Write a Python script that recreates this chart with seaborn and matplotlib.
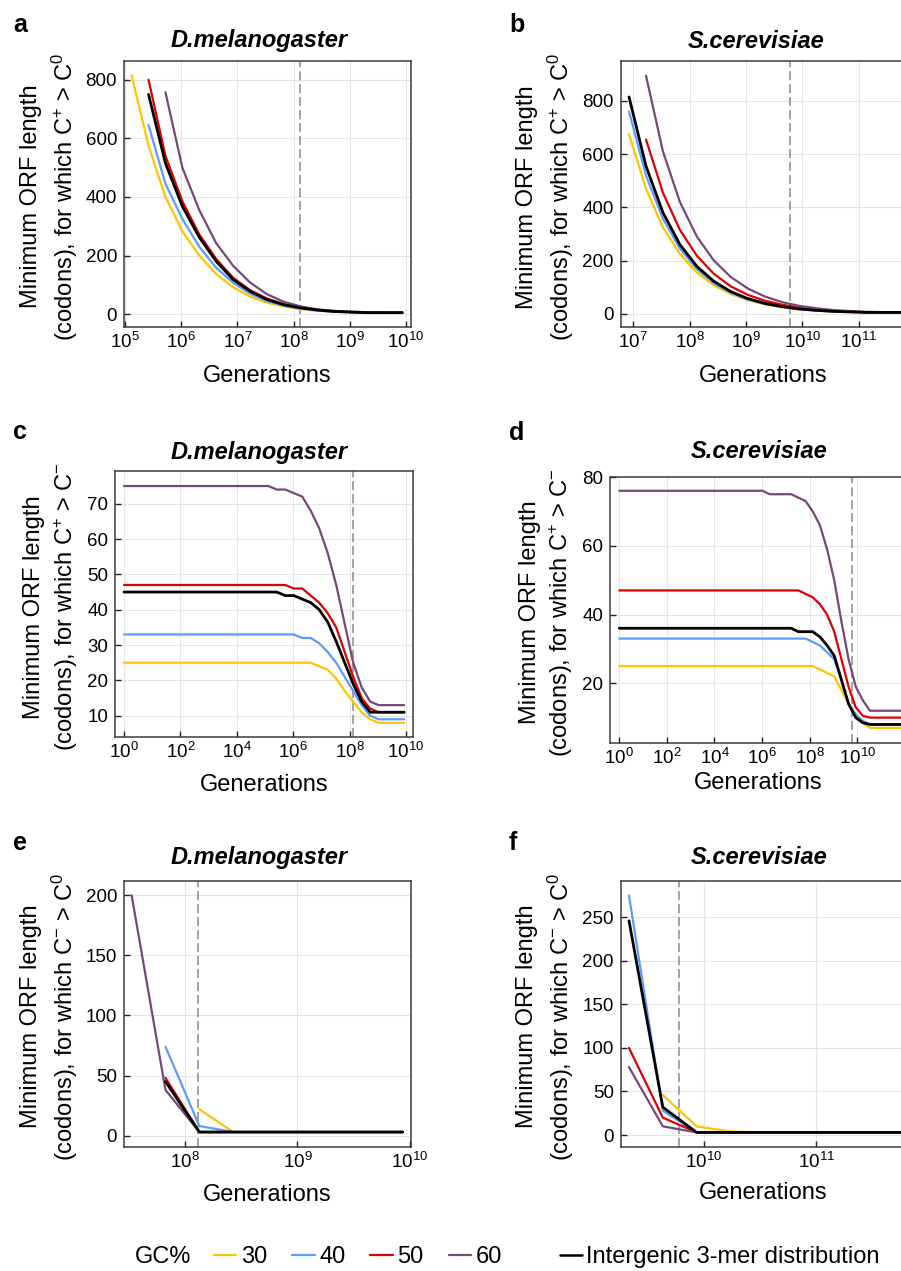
import numpy as np
import pandas as pd
import seaborn as sns
import matplotlib
matplotlib.use("Agg")
import matplotlib.pyplot as plt
from matplotlib.lines import Line2D
from matplotlib.ticker import FixedLocator, FixedFormatter

# ---------------- data ----------------
# generations are powers of two: GENERATIONS[k] = 2**k
GENERATIONS = [2 ** k for k in range(41)]
SERIES = ["30", "40", "50", "60", "Intergenic 3-mer distribution"]
COLORS = ["#FFC400", "#5A9BFF", "#DC0000", "#784779", "#000000"]
DMEL_NE = 1.3e8
SCER_NE = 6.0e9

# panel a: D.melanogaster, C+ > C0  (first exponent k for each series)
PA_START = [17, 18, 18, 19, 18]
PA_30 = [815, 575, 400, 283, 200, 137, 92, 60, 39, 26, 17, 11, 8, 6, 5, 5, 5]
PA_40 = [645, 445, 325, 230, 158, 107, 70, 45, 29, 19, 12, 8, 6, 5, 5, 5]
PA_50 = [800, 540, 385, 272, 188, 124, 82, 53, 34, 22, 14, 9, 7, 5, 5, 5]
PA_60 = [757, 500, 355, 242, 165, 108, 68, 42, 26, 16, 11, 8, 6, 5, 5]
PA_IG = [750, 515, 368, 262, 180, 118, 78, 50, 32, 21, 14, 9, 7, 5, 5, 5]

# panel b: S.cerevisiae, C+ > C0
PB_START = [23, 23, 24, 24, 23]
PB_30 = [675, 470, 325, 225, 155, 107, 74, 51, 35, 24, 17, 12, 8, 6, 5, 5, 5, 5]
PB_40 = [760, 520, 357, 245, 168, 115, 79, 54, 37, 26, 18, 12, 9, 7, 5, 5, 5, 5]
PB_50 = [655, 455, 315, 218, 150, 103, 71, 49, 34, 23, 16, 11, 8, 6, 5, 5, 5]
PB_60 = [895, 610, 420, 290, 200, 138, 95, 65, 44, 30, 21, 14, 10, 7, 6, 5, 5]
PB_IG = [815, 555, 380, 260, 178, 122, 83, 57, 39, 27, 18, 13, 9, 7, 5, 5, 5, 5]

# panel c: D.melanogaster, C+ > C-
PC_START = [0, 0, 0, 0, 0]
PC_30 = [25, 25, 25, 25, 25, 25, 25, 25, 25, 25, 25, 25, 25, 25, 25, 25, 25, 25,
         25, 25, 25, 25, 25, 24, 23, 20.5, 17, 14, 11, 9, 8, 8, 8, 8]
PC_40 = [33, 33, 33, 33, 33, 33, 33, 33, 33, 33, 33, 33, 33, 33, 33, 33, 33, 33,
         33, 33, 33, 32, 32, 30.5, 28, 25, 21, 17, 13, 10, 9, 9, 9, 9]
PC_50 = [47, 47, 47, 47, 47, 47, 47, 47, 47, 47, 47, 47, 47, 47, 47, 47, 47, 47,
         47, 47, 46, 46, 44, 42, 39, 35, 28, 21, 15, 12, 11, 11, 11, 11]
PC_60 = [75, 75, 75, 75, 75, 75, 75, 75, 75, 75, 75, 75, 75, 75, 75, 75, 75, 75,
         74, 74, 73, 72, 68, 63, 56, 47, 36, 25, 18, 14, 13, 13, 13, 13]
PC_IG = [45, 45, 45, 45, 45, 45, 45, 45, 45, 45, 45, 45, 45, 45, 45, 45, 45, 45,
         45, 44, 44, 43, 42, 40, 36.5, 31, 25, 19, 14, 11, 11, 11, 11, 11]

# panel d: S.cerevisiae, C+ > C-
PD_START = [0, 0, 0, 0, 0]
PD_30 = [25, 25, 25, 25, 25, 25, 25, 25, 25, 25, 25, 25, 25, 25, 25, 25, 25, 25,
         25, 25, 25, 25, 25, 25, 25, 25, 25, 25, 24, 23, 22, 18, 14, 10.5, 8.5,
         7, 7, 7, 7, 7, 7]
PD_40 = [33, 33, 33, 33, 33, 33, 33, 33, 33, 33, 33, 33, 33, 33, 33, 33, 33, 33,
         33, 33, 33, 33, 33, 33, 33, 33, 33, 32, 31, 29, 27, 21, 14, 11, 9,
         8, 8, 8, 8, 8, 8]
PD_50 = [47, 47, 47, 47, 47, 47, 47, 47, 47, 47, 47, 47, 47, 47, 47, 47, 47, 47,
         47, 47, 47, 47, 47, 47, 47, 47, 46, 45, 43, 40, 35, 27, 19, 13, 10.5,
         10, 10, 10, 10, 10, 10]
PD_60 = [76, 76, 76, 76, 76, 76, 76, 76, 76, 76, 76, 76, 76, 76, 76, 76, 76, 76,
         76, 76, 76, 75, 75, 75, 75, 74, 73, 70, 66, 59, 50, 38, 27, 19, 15,
         12, 12, 12, 12, 12, 12]
PD_IG = [36, 36, 36, 36, 36, 36, 36, 36, 36, 36, 36, 36, 36, 36, 36, 36, 36, 36,
         36, 36, 36, 36, 36, 36, 36, 35, 35, 35, 33.5, 31, 28, 21, 14, 10, 8.5,
         8, 8, 8, 8, 8, 8]

# panel e: D.melanogaster, C- > C0
PE_START = [27, 26, 26, 25, 26]
PE_30 = [22, 3, 3, 3, 3, 3, 3]
PE_40 = [74, 8, 3, 3, 3, 3, 3, 3]
PE_50 = [48, 3, 3, 3, 3, 3, 3, 3]
PE_60 = [200, 38, 3, 3, 3, 3, 3, 3, 3]
PE_IG = [45, 3, 3, 3, 3, 3, 3, 3]

# panel f: S.cerevisiae, C- > C0
PF_START = [32, 31, 31, 31, 31]
PF_30 = [46, 10, 4, 3, 3, 3, 3, 3, 3]
PF_40 = [275, 28, 3, 3, 3, 3, 3, 3, 3, 3]
PF_50 = [100, 20, 3, 3, 3, 3, 3, 3, 3, 3]
PF_60 = [78, 10, 3, 3, 3, 3, 3, 3, 3, 3]
PF_IG = [246, 32, 3, 3, 3, 3, 3, 3, 3, 3]

# ---------------- style ----------------
sns.set_theme(style="whitegrid")
plt.rcParams.update({
    "font.family": ["Liberation Sans", "DejaVu Sans"],
    "mathtext.fontset": "custom",
    "mathtext.rm": "Liberation Sans",
    "mathtext.it": "Liberation Sans:italic",
    "mathtext.bf": "Liberation Sans:bold",
    "axes.edgecolor": "#3c3c3c",
    "axes.linewidth": 1.1,
    "grid.color": "#e4e4e4",
    "grid.linewidth": 0.8,
    "xtick.direction": "in",
    "ytick.direction": "in",
    "xtick.bottom": True,
    "ytick.left": True,
    "xtick.major.size": 4,
    "ytick.major.size": 4,
    "xtick.major.width": 1.0,
    "ytick.major.width": 1.0,
    "xtick.color": "#222222",
    "ytick.color": "#222222",
    "xtick.labelcolor": "black",
    "ytick.labelcolor": "black",
    "xtick.major.pad": 3.5,
    "ytick.major.pad": 5,
    "text.color": "black",
    "axes.labelcolor": "black",
})

W, H = 901, 1271
fig = plt.figure(figsize=(W / 100, H / 100), dpi=100)


def rect(l, t, r, b):
    return [l / W, 1 - b / H, (r - l) / W, (b - t) / H]


LAB_PLUS0 = "Minimum ORF length\n(codons), for which C$^{+}$ > C$^{0}$"
LAB_PLUSM = "Minimum ORF length\n(codons), for which C$^{+}$ > C$^{-}$"
LAB_M0 = "Minimum ORF length\n(codons), for which C$^{-}$ > C$^{0}$"

panels = [
    dict(letter="a", title="D.melanogaster", box=(124, 61, 411, 327),
         xl=(4.982, 10.089), yl=(-44, 864), xt=[5, 6, 7, 8, 9, 10],
         yt=[0, 200, 400, 600, 800], ne=DMEL_NE, ylab=LAB_PLUS0,
         start=PA_START, vals=[PA_30, PA_40, PA_50, PA_60, PA_IG],
         tx=259, ty=47, lx=13, ly=31.5, ylx=-0.155, xly=-0.141),
    dict(letter="b", title="S.cerevisiae", box=(620.7, 61, 906, 327.3),
         xl=(6.776, 11.839), yl=(-51, 950), xt=[7, 8, 9, 10, 11],
         yt=[0, 200, 400, 600, 800], ne=SCER_NE, ylab=LAB_PLUS0,
         start=PB_START, vals=[PB_30, PB_40, PB_50, PB_60, PB_IG],
         tx=756, ty=47.5, lx=509, ly=31.5, ylx=-0.158, xly=-0.141),
    dict(letter="c", title="D.melanogaster", box=(115.3, 471, 413.3, 737.3),
         xl=(-0.309, 10.259), yl=(3.9, 79.25), xt=[0, 2, 4, 6, 8, 10],
         yt=[10, 20, 30, 40, 50, 60, 70], ne=DMEL_NE, ylab=LAB_PLUSM,
         start=PC_START, vals=[PC_30, PC_40, PC_50, PC_60, PC_IG],
         tx=259, ty=458.5, lx=13, ly=439.5, ylx=-0.120, xly=-0.139),
    dict(letter="d", title="S.cerevisiae", box=(610.3, 476.7, 906, 742.7),
         xl=(-0.378, 12.046), yl=(2.7, 80.1), xt=[0, 2, 4, 6, 8, 10],
         yt=[20, 40, 60, 80], ne=SCER_NE, ylab=LAB_PLUSM,
         start=PD_START, vals=[PD_30, PD_40, PD_50, PD_60, PD_IG],
         tx=759, ty=458, lx=509, ly=440, ylx=-0.118, xly=-0.112),
    dict(letter="e", title="D.melanogaster", box=(124, 881, 411, 1146.7),
         xl=(7.458, 10.009), yl=(-9.2, 211.9), xt=[8, 9, 10],
         yt=[0, 50, 100, 150, 200], ne=DMEL_NE, ylab=LAB_M0,
         start=PE_START, vals=[PE_30, PE_40, PE_50, PE_60, PE_IG],
         tx=259, ty=864, lx=13, ly=850, ylx=-0.155, xly=-0.141),
    dict(letter="f", title="S.cerevisiae", box=(620.7, 881, 906, 1146.7),
         xl=(9.258, 11.799), yl=(-13.4, 291.7), xt=[10, 11],
         yt=[0, 50, 100, 150, 200, 250], ne=SCER_NE, ylab=LAB_M0,
         start=PF_START, vals=[PF_30, PF_40, PF_50, PF_60, PF_IG],
         tx=759, ty=864, lx=509, ly=850.5, ylx=-0.158, xly=-0.134),
]

for p in panels:
    ax = fig.add_axes(rect(*p["box"]))
    ax.set_xscale("log")
    ax.axvline(p["ne"], color="#8a8a8a", lw=1.1, ls=(0, (6, 2.5)), zorder=1.5)
    for name, color, k0, vals in zip(SERIES, COLORS, p["start"], p["vals"]):
        df = pd.DataFrame({
            "Generations": GENERATIONS[k0:k0 + len(vals)],
            "Length": vals,
        })
        lw = 2.0 if color == "#000000" else 1.6
        sns.lineplot(data=df, x="Generations", y="Length", color=color,
                     lw=lw, estimator=None, sort=False, ax=ax, zorder=3)
    ax.set_xlim(10 ** p["xl"][0], 10 ** p["xl"][1])
    ax.set_ylim(*p["yl"])
    ax.xaxis.set_major_locator(FixedLocator([10.0 ** e for e in p["xt"]]))
    ax.xaxis.set_major_formatter(FixedFormatter([r"$10^{%d}$" % e for e in p["xt"]]))
    ax.xaxis.set_minor_locator(FixedLocator([]))
    ax.set_yticks(p["yt"])
    ax.set_yticklabels([str(v) for v in p["yt"]])
    ax.tick_params(axis="both", labelsize=13.5)
    ax.set_xlabel("Generations", fontsize=17)
    ax.xaxis.set_label_coords(0.5, p["xly"])
    ax.set_ylabel(p["ylab"], fontsize=17, linespacing=1.3)
    ax.yaxis.set_label_coords(p["ylx"], 0.49)
    for s in ax.spines.values():
        s.set_visible(True)
        s.set_color("#3c3c3c")
        s.set_linewidth(1.1)
    ax.grid(True, which="major")
    fig.text(p["tx"] / W, 1 - p["ty"] / H, p["title"], ha="center",
             va="baseline", fontsize=17, fontweight="bold", fontstyle="italic")
    fig.text(p["lx"] / W, 1 - p["ly"] / H, p["letter"], ha="left",
             va="baseline", fontsize=18, fontweight="bold")

# ---------------- legend ----------------
ly = 1 - 1257 / H
fig.text(135 / W, ly, "GC%", ha="left", va="center", fontsize=17)
handles = [Line2D([], [], color=c, lw=1.6) for c in COLORS[:4]]
fig.legend(handles, SERIES[:4], loc="center left", bbox_to_anchor=(214 / W, ly),
           ncol=4, frameon=False, fontsize=17, handlelength=0.95,
           handletextpad=0.2, columnspacing=1.05, borderpad=0, borderaxespad=0)
fig.legend([Line2D([], [], color=COLORS[4], lw=1.8)], SERIES[4:],
           loc="center left", bbox_to_anchor=(560 / W, ly), frameon=False,
           fontsize=17, handlelength=0.95, handletextpad=0.15,
           borderpad=0, borderaxespad=0)

fig.savefig("out.png", dpi=100)
